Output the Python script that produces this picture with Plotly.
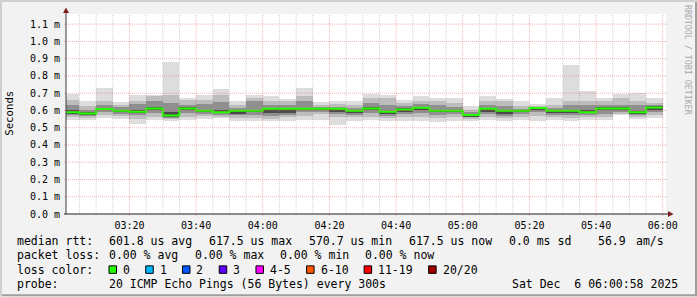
import pandas as pd
import plotly.graph_objects as go

# ---------------- data (milliseconds) ----------------
bar_start = "2025-12-06 03:00:00"
n_bars = 36
view_start = "2025-12-06 03:00:58"
view_end = "2025-12-06 06:00:58"

ping_max = [0.695, 0.652, 0.733, 0.648, 0.687, 0.691, 0.883, 0.675, 0.687, 0.725,
            0.656, 0.687, 0.681, 0.668, 0.733, 0.648, 0.656, 0.656, 0.698, 0.691,
            0.662, 0.681, 0.675, 0.675, 0.627, 0.681, 0.668, 0.656, 0.637, 0.675,
            0.864, 0.710, 0.675, 0.697, 0.700, 0.675]
ping_p90 = [0.662, 0.623, 0.656, 0.633, 0.652, 0.681, 0.687, 0.662, 0.660, 0.691,
            0.633, 0.675, 0.652, 0.652, 0.681, 0.633, 0.637, 0.633, 0.672, 0.672,
            0.643, 0.652, 0.652, 0.643, 0.604, 0.652, 0.652, 0.623, 0.625, 0.633,
            0.652, 0.652, 0.652, 0.672, 0.652, 0.643]
ping_p75 = [0.633, 0.604, 0.633, 0.618, 0.640, 0.655, 0.643, 0.633, 0.635, 0.650,
            0.615, 0.652, 0.630, 0.633, 0.652, 0.620, 0.620, 0.615, 0.643, 0.633,
            0.625, 0.635, 0.633, 0.620, 0.590, 0.630, 0.625, 0.610, 0.618, 0.615,
            0.633, 0.633, 0.633, 0.633, 0.633, 0.630]
ping_p60 = [0.600, 0.590, 0.615, 0.604, 0.600, 0.620, 0.590, 0.620, 0.605, 0.600,
            0.603, 0.605, 0.615, 0.615, 0.615, 0.614, 0.614, 0.603, 0.618, 0.598,
            0.612, 0.622, 0.604, 0.604, 0.578, 0.615, 0.604, 0.603, 0.616, 0.604,
            0.604, 0.600, 0.618, 0.618, 0.598, 0.625]
median_rtt = [0.589, 0.583, 0.608, 0.598, 0.592, 0.612, 0.5707, 0.612, 0.598, 0.589,
              0.598, 0.598, 0.610, 0.610, 0.610, 0.610, 0.610, 0.598, 0.612, 0.592,
              0.606, 0.616, 0.598, 0.598, 0.573, 0.610, 0.598, 0.598, 0.614, 0.598,
              0.598, 0.589, 0.612, 0.612, 0.589, 0.6175]
ping_p40 = [0.582, 0.575, 0.600, 0.590, 0.585, 0.600, 0.562, 0.600, 0.590, 0.583,
            0.580, 0.590, 0.585, 0.585, 0.600, 0.602, 0.590, 0.585, 0.600, 0.580,
            0.590, 0.605, 0.590, 0.590, 0.567, 0.590, 0.580, 0.590, 0.600, 0.585,
            0.585, 0.583, 0.600, 0.602, 0.582, 0.605]
ping_p25 = [0.572, 0.566, 0.590, 0.580, 0.572, 0.585, 0.556, 0.585, 0.580, 0.575,
            0.572, 0.575, 0.570, 0.575, 0.590, 0.590, 0.580, 0.575, 0.585, 0.570,
            0.580, 0.585, 0.575, 0.579, 0.560, 0.580, 0.570, 0.580, 0.590, 0.575,
            0.575, 0.575, 0.580, 0.590, 0.572, 0.590]
ping_p10 = [0.562, 0.555, 0.575, 0.566, 0.550, 0.565, 0.548, 0.565, 0.568, 0.565,
            0.556, 0.555, 0.552, 0.560, 0.570, 0.579, 0.565, 0.560, 0.565, 0.555,
            0.565, 0.560, 0.555, 0.560, 0.550, 0.562, 0.555, 0.565, 0.570, 0.560,
            0.555, 0.560, 0.560, 0.580, 0.560, 0.575]
ping_min = [0.546, 0.542, 0.556, 0.552, 0.523, 0.546, 0.540, 0.542, 0.552, 0.556,
            0.540, 0.540, 0.537, 0.537, 0.546, 0.546, 0.517, 0.537, 0.546, 0.540,
            0.537, 0.537, 0.533, 0.540, 0.537, 0.546, 0.540, 0.546, 0.537, 0.546,
            0.537, 0.546, 0.542, 0.571, 0.550, 0.556]

y_ticks = [0.0, 0.1, 0.2, 0.3, 0.4, 0.5, 0.6, 0.7, 0.8, 0.9, 1.0, 1.1]
y_top = 1.159

legend_rtt = [("median rtt:", 16), ("601.8 us avg", 108), ("617.5 us max", 208),
              ("570.7 us min", 308), ("617.5 us now", 407.5), ("0.0 ms sd", 508),
              ("56.9", 597), ("am/s", 635)]
legend_loss = [("packet loss:", 16), ("0.00 % avg", 108), ("0.00 % max", 193.5),
               ("0.00 % min", 279), ("0.00 % now", 364)]
loss_labels = ["0", "1", "2", "3", "4-5", "6-10", "11-19", "20/20"]
loss_colors = ["#26ff00", "#00b8ff", "#0059ff", "#5e00ff", "#ff00ff", "#ff5500", "#ff0000", "#a10000"]
probe_text = "20 ICMP Echo Pings (56 Bytes) every 300s"
date_text = "Sat Dec  6 06:00:58 2025"

# ---------------- layout geometry ----------------
W, H = 697, 297
L, T = 66, 14
PW, PH = 600, 200.5
R = W - L - PW
B = H - T - PH
MONO = "DejaVu Sans Mono"


def pxx(px):
    return (px - L) / PW


def pxy(py):
    return (T + PH - py) / PH


starts = pd.date_range(bar_start, periods=n_bars, freq="5min")
centers = starts + pd.Timedelta(minutes=2.5)
width_ms = 5 * 60 * 1000

fig = go.Figure()

layers = [
    (ping_min, ping_max, "#dddddd"),
    (ping_p10, ping_p90, "#bdbdbd"),
    (ping_p25, ping_p75, "#8f8f8f"),
    (ping_p40, ping_p60, "#4a4a4a"),
]
for lo, hi, col in layers:
    fig.add_trace(go.Bar(
        x=centers, base=lo, y=[h - l for l, h in zip(lo, hi)], width=width_ms,
        marker=dict(color=col, line=dict(width=0)), hoverinfo="skip", showlegend=False))

line_x = list(starts) + [starts[-1] + pd.Timedelta(minutes=5)]
line_y = median_rtt + [median_rtt[-1]]
fig.add_trace(go.Scatter(x=line_x, y=line_y, mode="lines", line=dict(color="#26ff00", width=2, shape="hv"),
                         hoverinfo="skip", showlegend=False))

shapes = []
MGRID = "rgba(222,79,79,0.42)"
GRID = "rgba(143,143,143,0.42)"
# horizontal grid
for v in y_ticks[1:]:
    shapes.append(dict(type="line", xref="paper", yref="y", x0=pxx(64), x1=pxx(668), y0=v, y1=v,
                       line=dict(color=MGRID, width=1, dash="1px,1px"), layer="above"))
# vertical grid
for t in pd.date_range("2025-12-06 03:05", "2025-12-06 06:00", freq="5min"):
    major = (t.minute % 20 == 0)
    shapes.append(dict(type="line", xref="x", yref="paper", x0=t, x1=t, y0=pxy(216.5) if major else 0, y1=1,
                       line=dict(color=MGRID if major else GRID, width=1, dash="1px,1px"), layer="above"))
# axes
shapes.append(dict(type="line", xref="paper", yref="paper", x0=0, x1=0, y0=0, y1=pxy(11),
                   line=dict(color="#3c3c3c", width=1), layer="above"))
shapes.append(dict(type="line", xref="paper", yref="paper", x0=pxx(64), x1=pxx(669), y0=0, y1=0,
                   line=dict(color="#1f1f1f", width=1), layer="above"))
ARROW = "#801f1f"
shapes.append(dict(type="path", xref="paper", yref="paper",
                   path=f"M {pxx(63)},{pxy(13)} L {pxx(69)},{pxy(13)} L {pxx(66)},{pxy(7.5)} Z",
                   fillcolor=ARROW, line=dict(width=0), layer="above"))
shapes.append(dict(type="path", xref="paper", yref="paper",
                   path=f"M {pxx(668)},{pxy(211.5)} L {pxx(668)},{pxy(217.5)} L {pxx(673.5)},{pxy(214.5)} Z",
                   fillcolor=ARROW, line=dict(width=0), layer="above"))
# outer 3D border
shapes.append(dict(type="rect", xref="paper", yref="paper", x0=pxx(0), x1=pxx(W), y0=pxy(0), y1=pxy(2),
                   fillcolor="#cfcfcf", line=dict(width=0)))
shapes.append(dict(type="rect", xref="paper", yref="paper", x0=pxx(0), x1=pxx(2), y0=pxy(0), y1=pxy(H),
                   fillcolor="#cfcfcf", line=dict(width=0)))
shapes.append(dict(type="rect", xref="paper", yref="paper", x0=pxx(2), x1=pxx(W), y0=pxy(H - 2), y1=pxy(H),
                   fillcolor="#9e9e9e", line=dict(width=0)))
shapes.append(dict(type="rect", xref="paper", yref="paper", x0=pxx(W - 2), x1=pxx(W), y0=pxy(2), y1=pxy(H),
                   fillcolor="#9e9e9e", line=dict(width=0)))

annotations = []


def text(s, px, py, size=11.5, color="#000000", xanchor="left", angle=0):
    annotations.append(dict(text=s.replace(" ", "&nbsp;"), x=pxx(px), y=pxy(py), xref="paper", yref="paper",
                            xanchor=xanchor, yanchor="middle", showarrow=False, textangle=angle,
                            borderpad=0, font=dict(family=MONO, size=size, color=color)))


row_y = [241.5, 256, 270.5, 285]
for s, px in legend_rtt:
    text(s, px, row_y[0])
for s, px in legend_loss:
    text(s, px, row_y[1])
text("loss color:", 16, row_y[2])
bx = 109
for lab, col in zip(loss_labels, loss_colors):
    shapes.append(dict(type="rect", xref="paper", yref="paper", x0=pxx(bx), x1=pxx(bx + 7.5),
                       y0=pxy(row_y[2] + 3.5), y1=pxy(row_y[2] - 4), fillcolor=col,
                       line=dict(color="#000000", width=1)))
    text(lab, bx + 13, row_y[2])
    bx += 13 + 6.94 * len(lab) + 16.8
text("probe:", 16, row_y[3])
text(probe_text, 108, row_y[3])
text(date_text, 679, row_y[3], xanchor="right")
text("Seconds", 10, 114, size=10.7, angle=-90, xanchor="center")
text("RRDTOOL / TOBI OETIKER", 688, 60, size=8.3, color="#a9a9a9", angle=90, xanchor="center")

fig.update_layout(
    width=W, height=H,
    margin=dict(l=L, r=R, t=T, b=B, pad=0),
    paper_bgcolor="#f2f2f2", plot_bgcolor="#ffffff",
    barmode="overlay", bargap=0, showlegend=False,
    shapes=shapes, annotations=annotations,
    xaxis=dict(type="date", range=[view_start, view_end], tick0="2025-12-06 03:00:00", dtick=20 * 60 * 1000,
               tickformat="%H:%M", showgrid=False, zeroline=False, showline=False, ticks="",
               ticklabelstandoff=4,
               tickfont=dict(family=MONO, size=10, color="#000000"), fixedrange=True),
    yaxis=dict(range=[0, y_top], tickvals=y_ticks, ticktext=[f"{v:.1f} m" for v in y_ticks],
               showgrid=False, zeroline=False, showline=False, ticks="",
               tickfont=dict(family=MONO, size=10, color="#000000"), ticklabelstandoff=5, fixedrange=True),
)

fig.write_html("out.html")
